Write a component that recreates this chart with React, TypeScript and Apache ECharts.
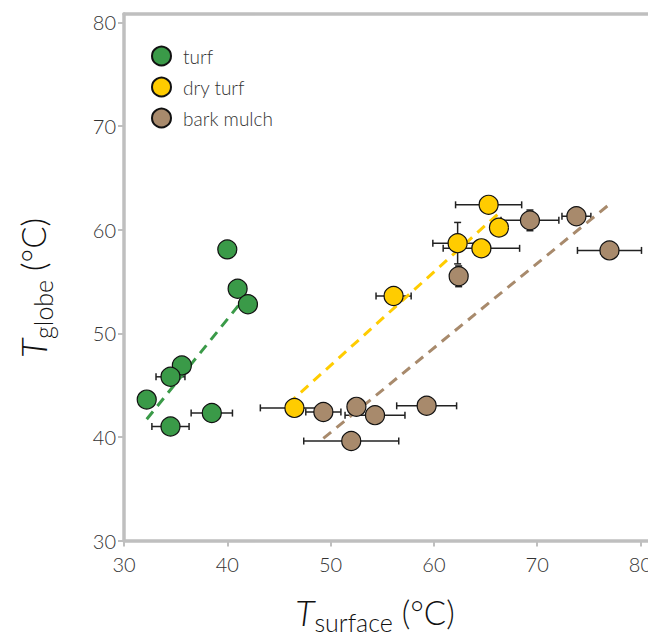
import React, { useEffect, useRef } from "react";
import * as echarts from "echarts";

const seriesNames = ["turf", "dry turf", "bark mulch"];
const colors = ["#3a9a48", "#ffcc00", "#a88a6c"];

const turfX = [40.0, 41.0, 42.0, 35.6, 34.5, 32.2, 38.5, 34.5];
const turfY = [58.1, 54.3, 52.8, 46.9, 45.8, 43.6, 42.3, 41.0];
const turfXErr = [0, 0, 0, 0, 1.4, 0, 2.0, 1.8];
const turfYErr = [0, 0, 0, 0, 0, 0, 0, 0];

const dryX = [65.3, 66.3, 62.3, 64.6, 56.1, 46.5];
const dryY = [62.4, 60.2, 58.7, 58.2, 53.6, 42.8];
const dryXErr = [3.2, 0, 2.4, 3.7, 1.7, 3.3];
const dryYErr = [0, 0, 2.0, 0, 0, 0];

const barkX = [69.3, 73.8, 77.0, 62.4, 49.3, 52.5, 54.3, 59.3, 52.0];
const barkY = [60.9, 61.3, 58.0, 55.5, 42.4, 42.9, 42.1, 43.0, 39.6];
const barkXErr = [2.8, 1.4, 3.1, 0, 1.7, 0, 2.9, 2.9, 4.6];
const barkYErr = [1.0, 0, 0, 1.0, 0, 0, 0, 0, 0];

const turfFit = [[32.2, 41.7], [41.9, 53.7]];
const dryFit = [[45.9, 43.2], [66.3, 61.6]];
const barkFit = [[49.3, 39.85], [77.05, 62.5]];

const xTicks = [30, 40, 50, 60, 70, 80];
const yTicks = [30, 40, 50, 60, 70, 80];

const FONT = "Lato";
const AXIS_GREY = "#bfbfbf";
const TEXT = "#333333";

function pts(xs: number[], ys: number[]) {
  return xs.map((x, i) => [x, ys[i]]);
}
function errs(xs: number[], ys: number[], xe: number[], ye: number[]) {
  return xs.map((x, i) => [x, ys[i], xe[i], ye[i]]);
}

function titleRich() {
  return {
    t: { fontFamily: FONT, fontStyle: "italic", fontWeight: 300, fontSize: 36, lineHeight: 44, verticalAlign: "middle", fill: "#111111" },
    s: { fontFamily: FONT, fontWeight: 300, fontSize: 25, lineHeight: 20, verticalAlign: "bottom", fill: "#111111" },
    u: { fontFamily: FONT, fontWeight: 300, fontSize: 33, lineHeight: 44, verticalAlign: "middle", fill: "#111111" },
  };
}

export default function App() {
  const ref = useRef<HTMLDivElement>(null);
  useEffect(() => {
    document.body.style.margin = "0";
    if (!ref.current) return;
    const chart = echarts.init(ref.current, undefined, { renderer: "svg" });
    const groups = [
      { name: seriesNames[0], color: colors[0], data: pts(turfX, turfY), err: errs(turfX, turfY, turfXErr, turfYErr), fit: turfFit },
      { name: seriesNames[1], color: colors[1], data: pts(dryX, dryY), err: errs(dryX, dryY, dryXErr, dryYErr), fit: dryFit },
      { name: seriesNames[2], color: colors[2], data: pts(barkX, barkY), err: errs(barkX, barkY, barkXErr, barkYErr), fit: barkFit },
    ];
    const allErr = groups.flatMap((g) => g.err);
    const cap = 3.5;
    const errStyle = { stroke: "#222222", lineWidth: 1.5 };
    const series: any[] = [
      {
        type: "custom",
        name: "errors",
        z: 1,
        silent: true,
        data: allErr,
        encode: { x: 0, y: 1 },
        renderItem: (params: any, api: any) => {
          const x = api.value(0);
          const y = api.value(1);
          const xe = api.value(2);
          const ye = api.value(3);
          const children: any[] = [];
          if (xe > 0) {
            const l = api.coord([x - xe, y]);
            const r = api.coord([x + xe, y]);
            children.push({ type: "line", shape: { x1: l[0], y1: l[1], x2: r[0], y2: r[1] }, style: errStyle });
            children.push({ type: "line", shape: { x1: l[0], y1: l[1] - cap, x2: l[0], y2: l[1] + cap }, style: errStyle });
            children.push({ type: "line", shape: { x1: r[0], y1: r[1] - cap, x2: r[0], y2: r[1] + cap }, style: errStyle });
          }
          if (ye > 0) {
            const b = api.coord([x, y - ye]);
            const t = api.coord([x, y + ye]);
            children.push({ type: "line", shape: { x1: b[0], y1: b[1], x2: t[0], y2: t[1] }, style: errStyle });
            children.push({ type: "line", shape: { x1: b[0] - cap, y1: b[1], x2: b[0] + cap, y2: b[1] }, style: errStyle });
            children.push({ type: "line", shape: { x1: t[0] - cap, y1: t[1], x2: t[0] + cap, y2: t[1] }, style: errStyle });
          }
          return { type: "group", children };
        },
      },
    ];
    groups.forEach((g) => {
      series.push({
        type: "line",
        name: g.name + " fit",
        z: 2,
        silent: true,
        data: g.fit,
        showSymbol: false,
        symbol: "none",
        lineStyle: { color: g.color, width: 3, type: [10, 7] },
      });
    });
    groups.forEach((g, i) => {
      series.push({
        type: "scatter",
        name: g.name,
        z: 3 + i,
        data: g.data,
        symbol: "circle",
        symbolSize: 19,
        itemStyle: { color: g.color, borderColor: "#111111", borderWidth: 1.2, opacity: 1 },
      });
    });

    const option: any = {
      animation: false,
      backgroundColor: "#ffffff",
      grid: {
        left: 124,
        right: 0,
        top: 14,
        bottom: 96.5,
        show: false,
        containLabel: false,
        outerBoundsMode: "none",
      },
      legend: {
        data: seriesNames,
        orient: "vertical",
        left: 151,
        top: 45.5,
        padding: 0,
        itemWidth: 19,
        itemHeight: 19,
        itemGap: 10,
        icon: "circle",
        textStyle: { fontFamily: FONT, fontWeight: 300, fontSize: 19, color: TEXT, padding: [0, 0, 0, 7] },
      },
      xAxis: [
        {
          type: "value",
          min: 30,
          max: 80.73,
          axisLine: { show: true, lineStyle: { color: AXIS_GREY, width: 3.5 } },
          axisTick: { show: true, customValues: xTicks, length: 6, lineStyle: { color: AXIS_GREY, width: 2 } },
          axisLabel: { customValues: xTicks, fontFamily: FONT, fontWeight: 300, fontSize: 20, color: TEXT, margin: 13 },
          splitLine: { show: false },
        },
        {
          type: "value",
          position: "top",
          min: 30,
          max: 80.73,
          axisLine: { show: true, onZero: false, lineStyle: { color: AXIS_GREY, width: 3.5 } },
          axisTick: { show: false },
          axisLabel: { show: false },
          splitLine: { show: false },
        },
      ],
      yAxis: {
        type: "value",
        min: 30,
        max: 80.82,
        axisLine: { show: true, lineStyle: { color: AXIS_GREY, width: 3.5 } },
        axisTick: { show: true, customValues: yTicks, length: 6, lineStyle: { color: AXIS_GREY, width: 2 } },
        axisLabel: { customValues: yTicks, fontFamily: FONT, fontWeight: 300, fontSize: 20, color: TEXT, margin: 8 },
        splitLine: { show: false },
      },
      graphic: [
        {
          type: "text",
          x: 375,
          y: 612,
          style: {
            text: "{t|T}{s|surface}{u| (°C)}",
            align: "center",
            verticalAlign: "middle",
            fill: "#111111",
            rich: titleRich(),
          },
        },
        {
          type: "text",
          x: 33,
          y: 288,
          rotation: Math.PI / 2,
          style: {
            text: "{t|T}{s|globe}{u| (°C)}",
            align: "center",
            verticalAlign: "middle",
            fill: "#111111",
            rich: titleRich(),
          },
        },
      ],
      series,
    };
    chart.setOption(option);
    return () => chart.dispose();
  }, []);
  return <div ref={ref} style={{ width: 648, height: 637 }} />;
}
